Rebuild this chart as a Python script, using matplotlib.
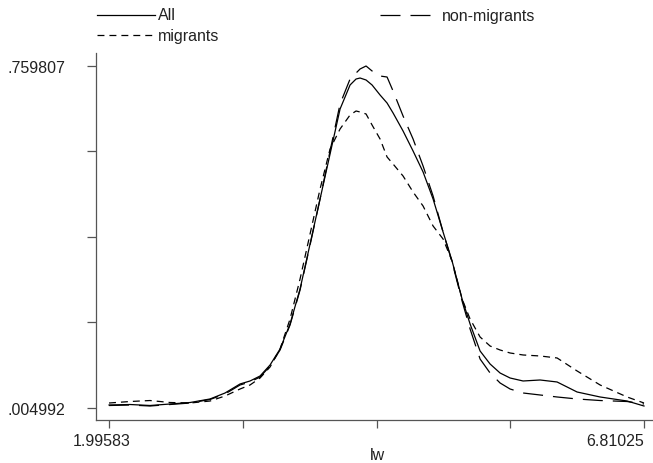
import matplotlib
matplotlib.use("Agg")
import matplotlib.pyplot as plt
from matplotlib.lines import Line2D
from matplotlib.transforms import ScaledTranslation

plt.rcParams['font.family'] = ['Liberation Sans', 'DejaVu Sans']
plt.rcParams['lines.scale_dashes'] = False

# ---- data ----
lw_grid = [1.996, 2.185, 2.365, 2.545, 2.725, 2.905, 3.040, 3.175, 3.265, 3.355,
           3.445, 3.535, 3.625, 3.715, 3.805, 3.895, 3.985, 4.075, 4.165, 4.219,
           4.255, 4.309, 4.363, 4.435, 4.498, 4.552, 4.642, 4.732, 4.822, 4.912,
           5.002, 5.083, 5.173, 5.245, 5.335, 5.425, 5.515, 5.605, 5.722, 5.875,
           6.028, 6.208, 6.415, 6.658, 6.810]

dens_all = [0.0116, 0.0127, 0.0105, 0.0138, 0.0171, 0.0249, 0.0381, 0.0580, 0.0646, 0.0756,
            0.0999, 0.1352, 0.1904, 0.2676, 0.3669, 0.4663, 0.5656, 0.6649, 0.7179, 0.7311,
            0.7333, 0.7289, 0.7179, 0.6958, 0.6781, 0.6561, 0.6163, 0.5722, 0.5259, 0.4663,
            0.3934, 0.3294, 0.2456, 0.1904, 0.1308, 0.1021, 0.0822, 0.0712, 0.0646, 0.0668,
            0.0624, 0.0403, 0.0293, 0.0204, 0.0094]

dens_nonmig = [0.0105, 0.0116, 0.0094, 0.0127, 0.0160, 0.0238, 0.0359, 0.0558, 0.0624, 0.0734,
               0.0977, 0.1330, 0.1882, 0.2654, 0.3647, 0.4663, 0.5722, 0.6759, 0.7311, 0.7443,
               0.7532, 0.7598, 0.7488, 0.7377, 0.7355, 0.7046, 0.6494, 0.5987, 0.5391, 0.4729,
               0.3934, 0.3272, 0.2411, 0.1794, 0.1131, 0.0822, 0.0602, 0.0469, 0.0381, 0.0337,
               0.0293, 0.0249, 0.0215, 0.0193, 0.0138]

dens_mig = [0.0160, 0.0193, 0.0215, 0.0171, 0.0160, 0.0204, 0.0315, 0.0469, 0.0558, 0.0712,
            0.0955, 0.1352, 0.2014, 0.2897, 0.3890, 0.4883, 0.5766, 0.6208, 0.6517, 0.6605,
            0.6583, 0.6539, 0.6296, 0.5987, 0.5590, 0.5435, 0.5170, 0.4817, 0.4508, 0.4067,
            0.3780, 0.3294, 0.2456, 0.2014, 0.1617, 0.1418, 0.1330, 0.1264, 0.1220, 0.1198,
            0.1154, 0.0867, 0.0558, 0.0293, 0.0160]

x_ticks = [1.99583, 3.19943, 4.40304, 5.60664, 6.81025]
x_ticklabels = ['1.99583', '', '', '', '6.81025']
y_ticks = [0.004992, 0.193696, 0.382400, 0.571103, 0.759807]
y_ticklabels = ['.004992', '', '', '', '.759807']
series_labels = ['All', 'non-migrants', 'migrants']

# ---- figure ----
W, H = 653, 464
fig = plt.figure(figsize=(W / 100, H / 100), dpi=100)
ax = fig.add_axes([96 / W, 1 - 421 / H, (W - 96) / W, (421 - 54) / H])

LW = 0.9
txt_color = '#222222'
ax_color = '#555555'
short_dash = (0, (5.0, 3.6))
long_dash = (0, (14.4, 7.2))

ax.plot(lw_grid, dens_all, color='black', lw=LW, linestyle='-')
ax.plot(lw_grid, dens_nonmig, color='black', lw=LW, linestyle=long_dash)
ax.plot(lw_grid, dens_mig, color='black', lw=LW, linestyle=short_dash)

ax.set_xlim(1.8788, 6.891)
ax.set_ylim(-0.0215, 0.7885)

for s in ['top', 'right']:
    ax.spines[s].set_visible(False)
for s in ['left', 'bottom']:
    ax.spines[s].set_color(ax_color)
    ax.spines[s].set_linewidth(0.9)

ax.set_xticks(x_ticks)
ax.set_xticklabels(x_ticklabels)
ax.set_yticks(y_ticks)
ax.set_yticklabels(y_ticklabels)
ax.tick_params(axis='y', length=6.5, width=0.9, color=ax_color, pad=15.8,
               labelsize=11.5, labelcolor=txt_color)
ax.tick_params(axis='x', length=5.8, width=0.9, color=ax_color, pad=3.6,
               labelsize=11.5, labelcolor=txt_color)

xl = ax.get_xticklabels()
xl[0].set_transform(xl[0].get_transform() + ScaledTranslation(-7 / 100, 0, fig.dpi_scale_trans))
xl[-1].set_horizontalalignment('right')

ax.set_xlabel('lw', fontsize=11.5, color=txt_color)
ax.xaxis.set_label_coords((377 - 96) / (W - 96), -(456 - 421) / (421 - 54))
ax.xaxis.label.set_verticalalignment('center')

# ---- legend (Stata-style, above the plot) ----
def legend_entry(x0, x1, xt, y, style, label):
    yf = 1 - y / H
    fig.add_artist(Line2D([x0 / W, x1 / W], [yf, yf], transform=fig.transFigure,
                          color='black', lw=LW, linestyle=style))
    fig.text(xt / W, yf, label, fontsize=11.5, color=txt_color, va='center', ha='left')

legend_entry(97, 155, 158, 16, '-', series_labels[0])
legend_entry(380, 430, 442, 16, long_dash, series_labels[1])
legend_entry(97, 155, 158, 36, short_dash, series_labels[2])

fig.savefig('out.png', dpi=100)
